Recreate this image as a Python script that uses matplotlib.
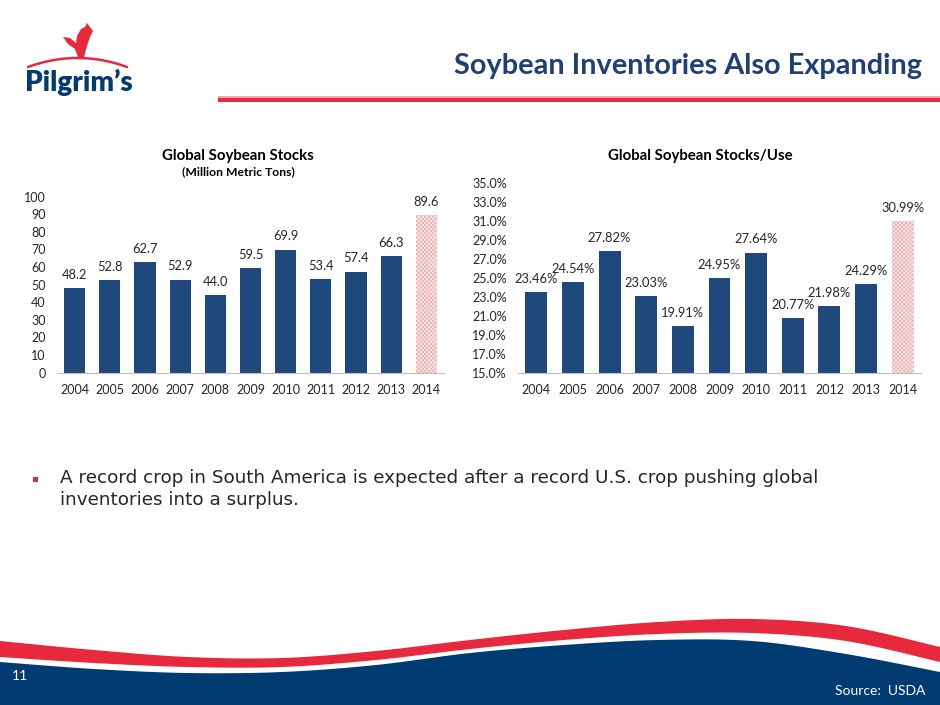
import numpy as np
import matplotlib
matplotlib.use('Agg')
import matplotlib.pyplot as plt
from matplotlib.patches import Polygon, Rectangle

# ---- data ----
years = ['2004', '2005', '2006', '2007', '2008', '2009', '2010', '2011', '2012', '2013', '2014']
stocks = [48.2, 52.8, 62.7, 52.9, 44.0, 59.5, 69.9, 53.4, 57.4, 66.3, 89.6]
stocks_use = [23.46, 24.54, 27.82, 23.03, 19.91, 24.95, 27.64, 20.77, 21.98, 24.29, 30.99]
stocks_ticks = [0, 10, 20, 30, 40, 50, 60, 70, 80, 90, 100]
use_ticks = [15, 17, 19, 21, 23, 25, 27, 29, 31, 33, 35]

W, H = 940, 705
BAR = '#1f497d'
NAVY = '#003b71'
RED = '#e8283c'
TITLE = '#1f3f7a'

plt.rcParams['font.family'] = ['Lato', 'DejaVu Sans']
plt.rcParams['hatch.linewidth'] = 0.5

fig = plt.figure(figsize=(9.4, 7.05), dpi=100)


def px(x0, y0, x1, y1):
    return [x0 / W, 1 - y1 / H, (x1 - x0) / W, (y1 - y0) / H]


def smooth(xs, ys, n=25):
    p = np.column_stack([xs, ys]).astype(float)
    p = np.vstack([p[0], p, p[-1]])
    out = []
    t = np.linspace(0, 1, n)[:, None]
    for i in range(1, len(p) - 2):
        p0, p1, p2, p3 = p[i - 1], p[i], p[i + 1], p[i + 2]
        out.append(0.5 * ((2 * p1) + (-p0 + p2) * t + (2 * p0 - 5 * p1 + 4 * p2 - p3) * t ** 2
                          + (-p0 + 3 * p1 - 3 * p2 + p3) * t ** 3))
    return np.vstack(out)


# ---- background decoration (logo, header line, footer waves) ----
bg = fig.add_axes([0, 0, 1, 1], zorder=0)
bg.set_xlim(0, W)
bg.set_ylim(H, 0)
bg.axis('off')

wx = [0, 94, 188, 282, 376, 470, 564, 658, 752, 846, 940]
red_top = [641, 650, 657, 658, 651, 640, 630, 622, 619, 626, 647]
red_bot = [657, 663, 667, 667, 660, 649, 640, 634, 633, 641, 662]
navy_top = [662, 669, 673, 672, 665, 653, 645, 640, 641, 654, 672]
rt = smooth(wx, red_top)
rb = smooth(wx, red_bot)
nt = smooth(wx, navy_top)
bg.add_patch(Polygon(np.vstack([rt, rb[::-1]]), closed=True, color=RED, lw=0))
bg.add_patch(Polygon(np.vstack([nt, [[W, H], [0, H]]]), closed=True, color=NAVY, lw=0))
bg.text(12, 676, '11', color='white', fontsize=10, va='center', ha='left')
bg.text(925, 691, 'Source:  USDA', color='white', fontsize=10, va='center', ha='right')

# header line
bg.add_patch(Rectangle((218, 96), W - 218, 2, color='#f4a6ae', lw=0))
bg.add_patch(Rectangle((218, 98), W - 218, 4, color=RED, lw=0))
bg.text(922, 66, 'Soybean Inventories Also Expanding', color=TITLE, fontsize=20.8,
        fontweight='bold', ha='right', va='center')

# logo
arc_x = np.linspace(28, 127, 60)
bg.plot(arc_x, 67 - 9 * (1 - ((arc_x - 77.5) / 49.5) ** 2), color=RED, lw=1.8,
        solid_capstyle='round')
rooster = [(78, 57), (75, 49), (68, 44), (63, 37), (70, 38), (76, 43), (77, 36), (81, 29),
           (85, 27), (87, 23), (90, 27), (93, 31), (90, 37), (87, 46), (84, 57)]
bg.add_patch(Polygon(rooster, closed=True, color=RED, lw=0))
bg.text(79, 82, 'Pilgrim\u2019s', color=NAVY, fontsize=20, fontweight='heavy',
        ha='center', va='center')

# bullet text
bg.add_patch(Rectangle((32.5, 476.5), 5, 5, color=RED, lw=0))
bg.text(60, 469, 'A record crop in South America is expected after a record U.S. crop pushing global\n'
        'inventories into a surplus.', family='DejaVu Sans', fontsize=13.2, color='#262626',
        ha='left', va='top', linespacing=1.3)


def bar_chart(rect, values, ticks, fmt, tickfmt, ylim):
    ax = fig.add_axes(px(*rect), zorder=2)
    x = np.arange(len(values))
    ax.bar(x[:-1], values[:-1], width=0.6, color=BAR, zorder=2)
    ax.bar(x[-1:], values[-1:], width=0.6, color='#fdeeee', edgecolor='#f0a4a8',
           hatch='xxxxxxxx', lw=0, zorder=2)
    for xi, v in zip(x, values):
        ax.annotate(fmt.format(v), (xi, v), xytext=(0, 9.5), textcoords='offset points',
                    ha='center', va='center', fontsize=9.3, color='#262626')
    ax.set_xlim(-0.5, len(values) - 0.5)
    ax.set_ylim(*ylim)
    ax.set_xticks(x)
    ax.set_xticklabels(years)
    ax.set_yticks(ticks)
    ax.set_yticklabels([tickfmt.format(t) for t in ticks])
    ax.tick_params(length=0, labelsize=9, labelcolor='#262626')
    ax.tick_params(axis='x', pad=8)
    ax.tick_params(axis='y', pad=8)
    for s in ['top', 'right', 'left']:
        ax.spines[s].set_visible(False)
    ax.spines['bottom'].set_color('#bfbfbf')
    ax.patch.set_alpha(0)
    return ax


ax1 = bar_chart((57, 196.7, 444, 372.7), stocks, stocks_ticks, '{:.1f}', '{:d}', (0, 100))
ax2 = bar_chart((518, 182.7, 921, 372.7), stocks_use, use_ticks, '{:.2f}%', '{:.1f}%', (15, 35))

bg.text(238, 156, 'Global Soybean Stocks', fontsize=10.8, fontweight='bold', ha='center',
        va='center', color='black')
bg.text(238, 172, '(Million Metric Tons)', fontsize=8.7, fontweight='bold', ha='center',
        va='center', color='black')
bg.text(700, 156, 'Global Soybean Stocks/Use', fontsize=10.8, fontweight='bold', ha='center',
        va='center', color='black')

fig.savefig('out.png', dpi=100)
